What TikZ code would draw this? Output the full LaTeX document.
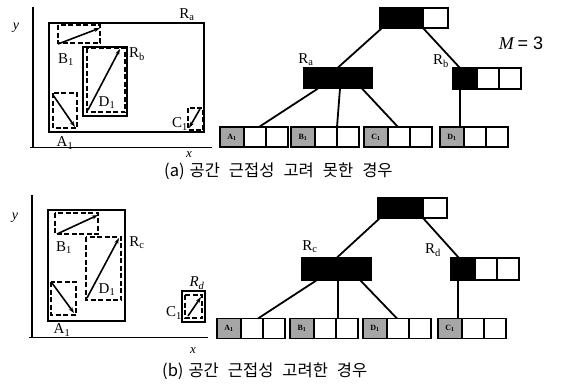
\documentclass[tikz,border=0pt]{standalone}
\usepackage{fontspec}
\setmainfont{Liberation Serif}
\newfontfamily\kr{Noto Sans CJK KR}
\newfontfamily\ar{Liberation Sans}
\usetikzlibrary{arrows.meta}
\newcommand\leafrow[4]{%
  \node[gc,anchor=west] (#1) at (#2,#3) {#4};
  \node[wc,anchor=west] (#1w1) at (#1.east) {};
  \node[wc,anchor=west] (#1w2) at (#1w1.east) {};
}
\newcommand\wgap{\hspace{9pt}}
\begin{document}
\begin{tikzpicture}[x=1pt,y=-1pt,
  axis/.style={line width=1.7pt},
  mbr/.style={draw,line width=2.5pt},
  ent/.style={draw,line width=1.3pt,dash pattern=on 5pt off 2.5pt},
  vec/.style={line width=1.6pt,-{Stealth[length=6pt,width=4pt]}},
  blk/.style={draw,fill=black,line width=1.7pt,inner sep=0pt,outer sep=0pt,minimum height=20pt},
  wc/.style={draw,fill=white,line width=1.7pt,inner sep=0pt,outer sep=0pt,minimum height=20pt,minimum width=22pt},
  gc/.style={draw,fill=gray!70,line width=1.7pt,inner sep=0pt,outer sep=0pt,minimum height=20pt,minimum width=24pt,font=\fontsize{8}{8}\selectfont\bfseries},
  edge/.style={line width=1.8pt},
  lbl/.style={font=\fontsize{15}{15}\selectfont,inner sep=0pt},
  capt/.style={font=\kr\fontsize{16.5}{16.5}\selectfont,inner sep=0pt,anchor=west},
]
\useasboundingbox[fill=white] (0,0) rectangle (562,383);

% ===== (a) spatial =====
\draw[axis] (33,7) -- (33,147.5);
\draw[axis] (30,147.5) -- (212,147.5);
\node[lbl,font=\fontsize{14}{14}\selectfont\itshape] (ya) at (16,28) {y};
\node[lbl,font=\fontsize{13}{13}\selectfont\itshape] (xa) at (189,155) {x};
\draw[mbr] (49,23) rectangle (204,132);
\draw[mbr] (83,47) rectangle (127,116);
\draw[ent] (58,25) rectangle (100,43);
\draw[vec] (58,44) -- (100,28);
\draw[ent] (87,48) rectangle (125,112);
\draw[vec] (88,110) -- (120,49);
\draw[ent] (53,93) rectangle (77,128);
\draw[vec] (53,95) -- (75,127);
\draw[ent] (188,108) rectangle (203,130);
\draw[vec] (200,109) -- (189,128);
\node[lbl] (saRa) at (187,15) {R\textsubscript{a}};
\node[lbl] (saRb) at (137,54) {R\textsubscript{b}};
\node[lbl] (saB) at (66,60) {B\textsubscript{1}};
\node[lbl] (saD) at (107,103) {D\textsubscript{1}};
\node[lbl] (saA) at (65,143) {A\textsubscript{1}};
\node[lbl] (saC) at (180,124) {C\textsubscript{1}};

% ===== (a) tree =====
\node[blk,minimum width=43pt,anchor=west] (ta) at (380,18) {};
\node[wc,minimum width=25pt,anchor=west] (taw) at (ta.east) {};
\node[blk,minimum width=68pt,minimum height=21pt] (tRa) at (338,78) {};
\node[blk,minimum width=24pt,minimum height=21pt,anchor=west] (tRb) at (453,78.5) {};
\node[wc,minimum height=21pt,anchor=west] (tRbw1) at (tRb.east) {};
\node[wc,minimum height=21pt,anchor=west] (tRbw2) at (tRbw1.east) {};
\leafrow{la1}{220}{137}{A\textsubscript{1}}
\leafrow{la2}{291}{137}{B\textsubscript{1}}
\leafrow{la3}{364}{137}{C\textsubscript{1}}
\leafrow{la4}{440}{137}{D\textsubscript{1}}
\draw[edge] ([xshift=2pt]ta.south west) -- (tRa.north);
\draw[edge] (ta.south east) -- ([xshift=7pt]tRb.north west);
\draw[edge] ([xshift=14pt]tRa.south west) -- ([xshift=15pt]la1w1.north west);
\draw[edge] ([xshift=36pt]tRa.south west) -- (la2w2.north west);
\draw[edge] ([xshift=58pt]tRa.south west) -- ([xshift=10pt]la3w1.north west);
\draw[edge] ([xshift=7pt]tRb.south west) -- ([xshift=7pt]tRb.south west |- la4.north);
\node[lbl] (tlRa) at (306,60) {R\textsubscript{a}};
\node[lbl] (tlRb) at (441,61) {R\textsubscript{b}};
\node[lbl,font=\fontsize{18}{18}\selectfont] (M) at (521,43) {\textit{M}\,{\ar = 3}};
\node[capt] (capa) at (164,171) {(a)\hspace{5pt}공간\wgap 근접성\wgap 고려\wgap 못한\wgap 경우};

% ===== (b) spatial =====
\draw[axis] (32,195) -- (32,337.5);
\draw[axis] (29,337.5) -- (208,337.5);
\node[lbl,font=\fontsize{14}{14}\selectfont\itshape] (yb) at (15,218) {y};
\node[lbl,font=\fontsize{13}{13}\selectfont\itshape] (xb) at (193,351) {x};
\draw[mbr] (48,210) rectangle (125,321);
\draw[ent] (55,213) rectangle (98,234);
\draw[vec] (57,234) -- (98,215);
\draw[ent] (86,237) rectangle (121,300);
\draw[vec] (87,298) -- (119,238);
\draw[ent] (51,282) rectangle (76,315);
\draw[vec] (52,283) -- (74,313);
\draw[mbr] (182,291) rectangle (205,322);
\draw[ent] (185,295) rectangle (202,318);
\draw[vec] (188,316) -- (201,297);
\node[lbl] (sbB) at (64,248) {B\textsubscript{1}};
\node[lbl] (sbD) at (107,290) {D\textsubscript{1}};
\node[lbl] (sbRc) at (137,243) {R\textsubscript{c}};
\node[lbl] (sbA) at (62,330) {A\textsubscript{1}};
\node[lbl] (sbC) at (174,313) {C\textsubscript{1}};
\node[lbl] (sbRd) at (197,283) {\textit{R}\textsubscript{\textit{d}}};

% ===== (b) tree =====
\node[blk,minimum width=45pt,anchor=west] (tb) at (378,208) {};
\node[wc,minimum width=24pt,anchor=west] (tbw) at (tb.east) {};
\node[blk,minimum width=69pt,minimum height=22pt] (tRc) at (336.5,269) {};
\node[blk,minimum width=24pt,minimum height=22pt,anchor=west] (tRd) at (451,269) {};
\node[wc,minimum height=22pt,anchor=west] (tRdw1) at (tRd.east) {};
\node[wc,minimum height=22pt,anchor=west] (tRdw2) at (tRdw1.east) {};
\leafrow{lb1}{217}{328.5}{A\textsubscript{1}}
\leafrow{lb2}{290}{328.5}{B\textsubscript{1}}
\leafrow{lb3}{363}{328.5}{D\textsubscript{1}}
\leafrow{lb4}{438}{328.5}{C\textsubscript{1}}
\draw[edge] ([xshift=2pt]tb.south west) -- (tRc.north);
\draw[edge] (tb.south east) -- ([xshift=8pt]tRd.north west);
\draw[edge] ([xshift=15pt]tRc.south west) -- ([xshift=17pt]lb1w1.north west);
\draw[edge] ([xshift=36pt]tRc.south west) -- ([xshift=2pt]lb2w2.north west);
\draw[edge] ([xshift=58pt]tRc.south west) -- ([xshift=10pt]lb3w1.north west);
\draw[edge] ([xshift=7pt]tRd.south west) -- ([xshift=7pt]tRd.south west |- lb4.north);
\node[lbl] (tlRc) at (310,247) {R\textsubscript{c}};
\node[lbl] (tlRd) at (433,250) {R\textsubscript{d}};
\node[capt] (capb) at (162,371) {(b)\hspace{5pt}공간\wgap 근접성\wgap 고려한\wgap 경우};
\end{tikzpicture}
\end{document}
